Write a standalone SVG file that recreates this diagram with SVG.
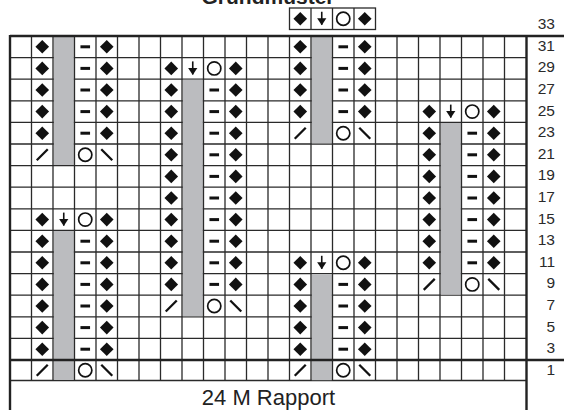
<svg xmlns="http://www.w3.org/2000/svg" xmlns:xlink="http://www.w3.org/1999/xlink" width="564" height="412" viewBox="0 0 564 412">
<style>
.t{font-family:"Liberation Sans",Arial,sans-serif;fill:#222}
.num{font-size:15.5px;text-anchor:end;fill:#2a2a2a}
.thin{stroke:#2a2a2a;stroke-width:1.3;fill:none}
.thick{stroke:#222;stroke-width:2.4;fill:none}
.gray{fill:#bbbcbf}
.sym{fill:#111}
.ln{stroke:#111;stroke-width:2.3;stroke-linecap:butt;fill:none}
</style>
<defs>
<polygon id="d" class="sym" points="0,-6.8 6.8,0 0,6.8 -6.8,0"/>
<rect id="m" class="sym" x="-4.8" y="-1.5" width="9.6" height="3"/>
<circle id="o" cx="0" cy="0" r="6.6" fill="none" stroke="#111" stroke-width="1.7"/>
<g id="a"><line x1="0" y1="-7" x2="0" y2="6" stroke="#111" stroke-width="1.6"/><polygon class="sym" points="-4.6,-0.5 4.6,-0.5 0,6.5"/></g>
<line id="s" class="ln" x1="-5.5" y1="5.5" x2="5.5" y2="-5.5"/>
<line id="b" class="ln" x1="-5.5" y1="-5.5" x2="5.5" y2="5.5"/>
</defs>
<rect width="564" height="412" fill="#fff"/>
<text class="t" x="268" y="3.5" font-size="21" font-weight="bold" text-anchor="middle">Grundmuster</text>

<g id="grid">
<g class="thin">
<path d="M10 57.6H526M10 79.2H526M10 100.8H526M10 122.4H526M10 144H526M10 165.6H526M10 187.2H526M10 208.8H526M10 230.4H526M10 252H526M10 273.6H526M10 295.2H526M10 316.8H526M10 338.4H526M10 380.5H526"/>
</g>
<g id="stripes">
<rect class="gray" x="53.6" y="36" width="20.3" height="129"/>
<rect class="gray" x="53.6" y="231" width="20.3" height="149"/>
<rect class="gray" x="182.6" y="79.8" width="20.3" height="236.4"/>
<rect class="gray" x="311.6" y="36" width="20.3" height="107.4"/>
<rect class="gray" x="311.6" y="274.2" width="20.3" height="106"/>
<rect class="gray" x="440.6" y="123" width="20.3" height="171.6"/>
</g>
<g class="thin">
<path d="M31.5 36V380.5M53 36V380.5M74.5 36V380.5M96 36V380.5M117.5 36V380.5M139 36V380.5M160.5 36V380.5M182 36V380.5M203.5 36V380.5M225 36V380.5M246.5 36V380.5M268 36V380.5M289.5 36V380.5M311 36V380.5M332.5 36V380.5M354 36V380.5M375.5 36V380.5M397 36V380.5M418.5 36V380.5M440 36V380.5M461.5 36V380.5M483 36V380.5M504.5 36V380.5"/>
</g>
<g class="thick">
<path d="M10 36H564M10 360H564M10 35V410M526.5 35V410"/>
</g>
</g>

<g id="row33">
<rect class="thin" x="289.5" y="8" width="86" height="21.5"/>
<path class="thin" d="M311 8V29.5M332.5 8V29.5M354 8V29.5"/>
<use href="#d" x="300.25" y="18.75"/><use href="#a" x="321.75" y="18.75"/><use href="#o" x="343.25" y="18.75"/><use href="#d" x="364.75" y="18.75"/>
</g>

<g id="groupA">
<use href="#d" x="42.25" y="46.8"/><use href="#m" x="85.25" y="46.8"/><use href="#d" x="106.75" y="46.8"/>
<use href="#d" x="42.25" y="68.4"/><use href="#m" x="85.25" y="68.4"/><use href="#d" x="106.75" y="68.4"/>
<use href="#d" x="42.25" y="90"/><use href="#m" x="85.25" y="90"/><use href="#d" x="106.75" y="90"/>
<use href="#d" x="42.25" y="111.6"/><use href="#m" x="85.25" y="111.6"/><use href="#d" x="106.75" y="111.6"/>
<use href="#d" x="42.25" y="133.2"/><use href="#m" x="85.25" y="133.2"/><use href="#d" x="106.75" y="133.2"/>
<use href="#s" x="42.25" y="154.8"/><use href="#o" x="85.25" y="154.8"/><use href="#b" x="106.75" y="154.8"/>
<use href="#d" x="42.25" y="219.6"/><use href="#a" x="63.75" y="219.6"/><use href="#o" x="85.25" y="219.6"/><use href="#d" x="106.75" y="219.6"/>
<use href="#d" x="42.25" y="241.2"/><use href="#m" x="85.25" y="241.2"/><use href="#d" x="106.75" y="241.2"/>
<use href="#d" x="42.25" y="262.8"/><use href="#m" x="85.25" y="262.8"/><use href="#d" x="106.75" y="262.8"/>
<use href="#d" x="42.25" y="284.4"/><use href="#m" x="85.25" y="284.4"/><use href="#d" x="106.75" y="284.4"/>
<use href="#d" x="42.25" y="306"/><use href="#m" x="85.25" y="306"/><use href="#d" x="106.75" y="306"/>
<use href="#d" x="42.25" y="327.6"/><use href="#m" x="85.25" y="327.6"/><use href="#d" x="106.75" y="327.6"/>
<use href="#d" x="42.25" y="349.2"/><use href="#m" x="85.25" y="349.2"/><use href="#d" x="106.75" y="349.2"/>
<use href="#s" x="42.25" y="370.25"/><use href="#o" x="85.25" y="370.25"/><use href="#b" x="106.75" y="370.25"/>
</g>

<g id="groupB">
<use href="#d" x="171.25" y="68.4"/><use href="#a" x="192.75" y="68.4"/><use href="#o" x="214.25" y="68.4"/><use href="#d" x="235.75" y="68.4"/>
<use href="#d" x="171.25" y="90"/><use href="#m" x="214.25" y="90"/><use href="#d" x="235.75" y="90"/>
<use href="#d" x="171.25" y="111.6"/><use href="#m" x="214.25" y="111.6"/><use href="#d" x="235.75" y="111.6"/>
<use href="#d" x="171.25" y="133.2"/><use href="#m" x="214.25" y="133.2"/><use href="#d" x="235.75" y="133.2"/>
<use href="#d" x="171.25" y="154.8"/><use href="#m" x="214.25" y="154.8"/><use href="#d" x="235.75" y="154.8"/>
<use href="#d" x="171.25" y="176.4"/><use href="#m" x="214.25" y="176.4"/><use href="#d" x="235.75" y="176.4"/>
<use href="#d" x="171.25" y="198"/><use href="#m" x="214.25" y="198"/><use href="#d" x="235.75" y="198"/>
<use href="#d" x="171.25" y="219.6"/><use href="#m" x="214.25" y="219.6"/><use href="#d" x="235.75" y="219.6"/>
<use href="#d" x="171.25" y="241.2"/><use href="#m" x="214.25" y="241.2"/><use href="#d" x="235.75" y="241.2"/>
<use href="#d" x="171.25" y="262.8"/><use href="#m" x="214.25" y="262.8"/><use href="#d" x="235.75" y="262.8"/>
<use href="#d" x="171.25" y="284.4"/><use href="#m" x="214.25" y="284.4"/><use href="#d" x="235.75" y="284.4"/>
<use href="#s" x="171.25" y="306"/><use href="#o" x="214.25" y="306"/><use href="#b" x="235.75" y="306"/>
</g>

<g id="groupC">
<use href="#d" x="300.25" y="46.8"/><use href="#m" x="343.25" y="46.8"/><use href="#d" x="364.75" y="46.8"/>
<use href="#d" x="300.25" y="68.4"/><use href="#m" x="343.25" y="68.4"/><use href="#d" x="364.75" y="68.4"/>
<use href="#d" x="300.25" y="90"/><use href="#m" x="343.25" y="90"/><use href="#d" x="364.75" y="90"/>
<use href="#d" x="300.25" y="111.6"/><use href="#m" x="343.25" y="111.6"/><use href="#d" x="364.75" y="111.6"/>
<use href="#s" x="300.25" y="133.2"/><use href="#o" x="343.25" y="133.2"/><use href="#b" x="364.75" y="133.2"/>
<use href="#d" x="300.25" y="262.8"/><use href="#a" x="321.75" y="262.8"/><use href="#o" x="343.25" y="262.8"/><use href="#d" x="364.75" y="262.8"/>
<use href="#d" x="300.25" y="284.4"/><use href="#m" x="343.25" y="284.4"/><use href="#d" x="364.75" y="284.4"/>
<use href="#d" x="300.25" y="306"/><use href="#m" x="343.25" y="306"/><use href="#d" x="364.75" y="306"/>
<use href="#d" x="300.25" y="327.6"/><use href="#m" x="343.25" y="327.6"/><use href="#d" x="364.75" y="327.6"/>
<use href="#d" x="300.25" y="349.2"/><use href="#m" x="343.25" y="349.2"/><use href="#d" x="364.75" y="349.2"/>
<use href="#s" x="300.25" y="370.25"/><use href="#o" x="343.25" y="370.25"/><use href="#b" x="364.75" y="370.25"/>
</g>

<g id="groupD">
<use href="#d" x="429.25" y="111.6"/><use href="#a" x="450.75" y="111.6"/><use href="#o" x="472.25" y="111.6"/><use href="#d" x="493.75" y="111.6"/>
<use href="#d" x="429.25" y="133.2"/><use href="#m" x="472.25" y="133.2"/><use href="#d" x="493.75" y="133.2"/>
<use href="#d" x="429.25" y="154.8"/><use href="#m" x="472.25" y="154.8"/><use href="#d" x="493.75" y="154.8"/>
<use href="#d" x="429.25" y="176.4"/><use href="#m" x="472.25" y="176.4"/><use href="#d" x="493.75" y="176.4"/>
<use href="#d" x="429.25" y="198"/><use href="#m" x="472.25" y="198"/><use href="#d" x="493.75" y="198"/>
<use href="#d" x="429.25" y="219.6"/><use href="#m" x="472.25" y="219.6"/><use href="#d" x="493.75" y="219.6"/>
<use href="#d" x="429.25" y="241.2"/><use href="#m" x="472.25" y="241.2"/><use href="#d" x="493.75" y="241.2"/>
<use href="#d" x="429.25" y="262.8"/><use href="#m" x="472.25" y="262.8"/><use href="#d" x="493.75" y="262.8"/>
<use href="#s" x="429.25" y="284.4"/><use href="#o" x="472.25" y="284.4"/><use href="#b" x="493.75" y="284.4"/>
</g>

<g id="rowNumbers" class="t num">
<text x="555" y="28.5">33</text>
<text x="555" y="50.8">31</text>
<text x="555" y="72.4">29</text>
<text x="555" y="94">27</text>
<text x="555" y="115.6">25</text>
<text x="555" y="137.2">23</text>
<text x="555" y="158.8">21</text>
<text x="555" y="180.4">19</text>
<text x="555" y="202">17</text>
<text x="555" y="223.6">15</text>
<text x="555" y="245.2">13</text>
<text x="555" y="266.8">11</text>
<text x="555" y="288.4">9</text>
<text x="555" y="310">7</text>
<text x="555" y="331.6">5</text>
<text x="555" y="353.2">3</text>
<text x="555" y="375.2">1</text>
</g>

<text id="rapport" class="t" x="268.5" y="404.5" font-size="22" text-anchor="middle">24 M Rapport</text>
</svg>
